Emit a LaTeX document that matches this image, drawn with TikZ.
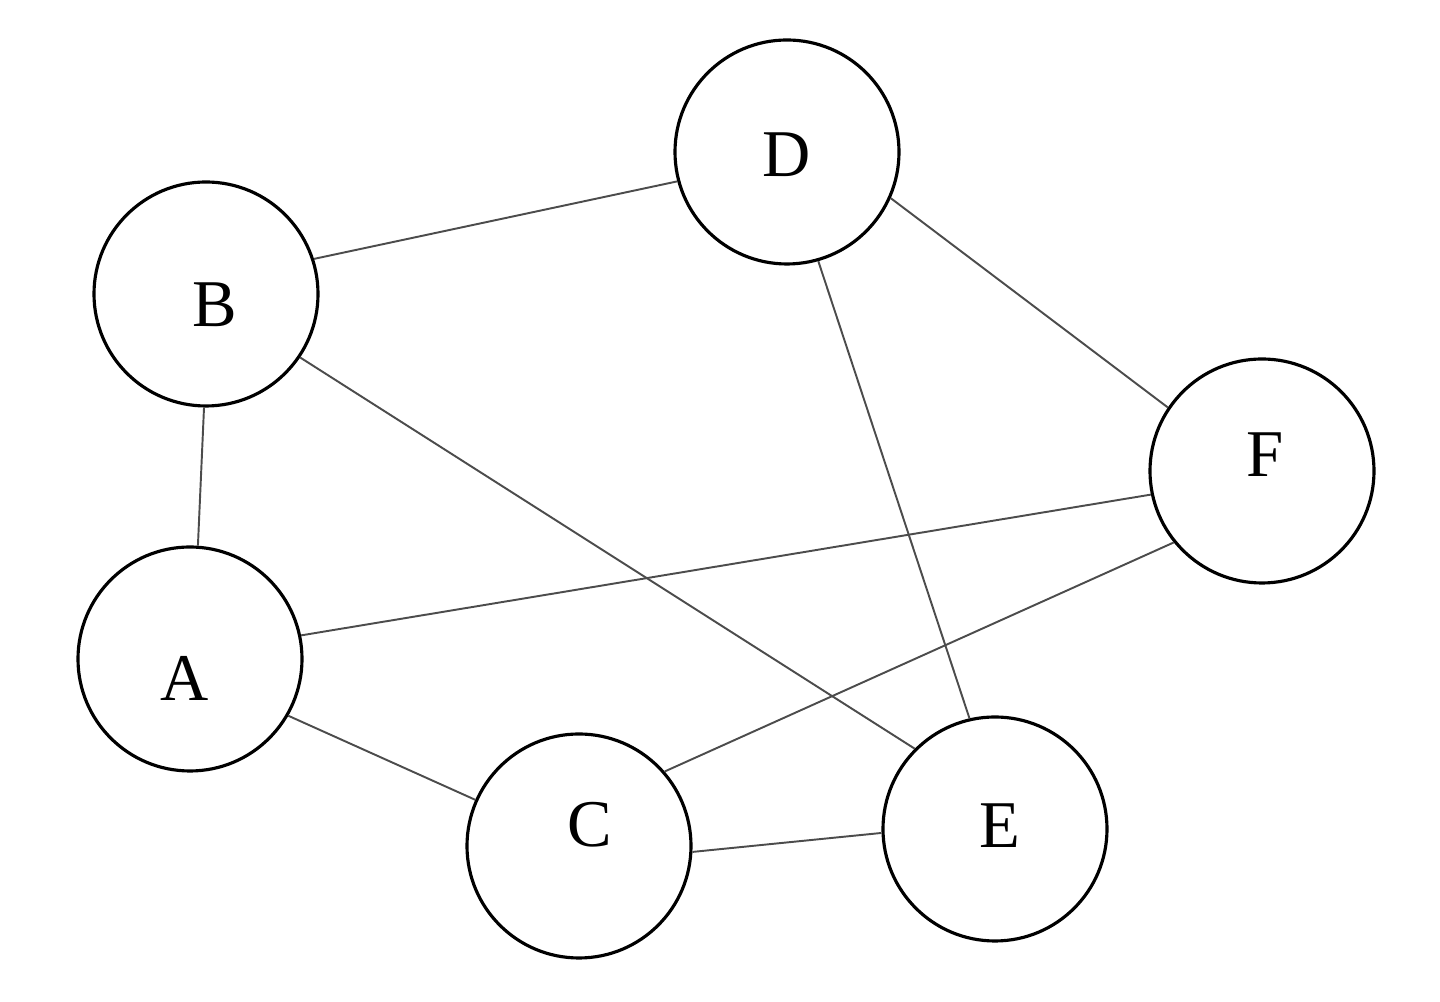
\documentclass[tikz,border=0pt]{standalone}
\usepackage{fontspec}
\setmainfont{Liberation Serif}
\usepackage{tikz}
\usetikzlibrary{positioning}

\begin{document}
\begin{tikzpicture}[
		vtx/.style={draw, circle, line width=0.9pt, minimum size=2.24cm,
			inner sep=0pt},
		lbl/.style={font=\fontsize{19}{22}\selectfont, inner sep=0pt},
		edge/.style={line width=0.55pt, black!70}
	]
		% frame of the page, same proportions as the source
		\useasboundingbox (0,0) rectangle (14.4,10.02);

		% vertices, placed at their positions on the sheet;
		% letters sit a little off centre, as in the source
		\node[vtx, label={[lbl, yshift=-0.03cm]center:D}] (D) at (7.87,8.50) {};
		\node[vtx, label={[lbl, xshift=0.09cm, yshift=-0.11cm]center:B}] (B) at (2.06,7.08) {};
		\node[vtx, label={[lbl, xshift=0.03cm, yshift=0.16cm]center:F}] (F) at (12.62,5.31) {};
		\node[vtx, label={[lbl, xshift=-0.05cm, yshift=-0.19cm]center:A}] (A) at (1.90,3.43) {};
		\node[vtx, label={[lbl, xshift=0.11cm, yshift=0.21cm]center:C}] (C) at (5.79,1.56) {};
		\node[vtx, label={[lbl, xshift=0.05cm, yshift=0.03cm]center:E}] (E) at (9.95,1.73) {};

		% edges
		\draw[edge] (B.18) -- (D.195);
		\draw[edge] (D.-24) -- (F.146);
		\draw[edge] (D.-74) -- (E.103);
		\draw[edge] (B.-91) -- (A.86);
		\draw[edge] (B.-34) -- (E.135);
		\draw[edge] (A.12) -- (F.192);
		\draw[edge] (A.-30) -- (C.156);
		\draw[edge] (C.41) -- (F.219);
		\draw[edge] (C.-3) -- (E.182);
	\end{tikzpicture}
\end{document}
